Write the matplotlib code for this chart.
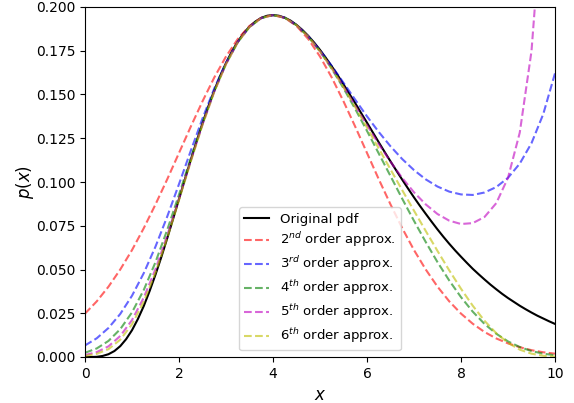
import matplotlib
matplotlib.use("Agg")
import matplotlib.pyplot as plt

# x positions
x_pdf = [i * 0.125 for i in range(81)]
x_approx = [i * 0.25 for i in range(41)]

# Original pdf
pdf_original = [0.0000, 0.0000, 0.0001, 0.0006, 0.0016, 0.0034, 0.0062, 0.0102, 0.0153, 0.0217,
                0.0291, 0.0377, 0.0471, 0.0572, 0.0679, 0.0790, 0.0902, 0.1015, 0.1126, 0.1233,
                0.1336, 0.1433, 0.1523, 0.1606, 0.1680, 0.1746, 0.1802, 0.1850, 0.1888, 0.1917,
                0.1938, 0.1950, 0.1954, 0.1950, 0.1939, 0.1922, 0.1898, 0.1869, 0.1835, 0.1797,
                0.1755, 0.1709, 0.1661, 0.1611, 0.1558, 0.1504, 0.1450, 0.1394, 0.1339, 0.1283,
                0.1227, 0.1172, 0.1118, 0.1065, 0.1013, 0.0962, 0.0912, 0.0864, 0.0818, 0.0773,
                0.0729, 0.0687, 0.0647, 0.0609, 0.0573, 0.0538, 0.0504, 0.0473, 0.0443, 0.0414,
                0.0387, 0.0361, 0.0337, 0.0315, 0.0293, 0.0273, 0.0254, 0.0236, 0.0220, 0.0204,
                0.0189]

approx_2 = [0.0248, 0.0318, 0.0402, 0.0500, 0.0611, 0.0736, 0.0872, 0.1016, 0.1166, 0.1316,
            0.1461, 0.1597, 0.1717, 0.1817, 0.1892, 0.1938, 0.1954, 0.1938, 0.1892, 0.1817,
            0.1717, 0.1597, 0.1461, 0.1316, 0.1166, 0.1016, 0.0872, 0.0736, 0.0611, 0.0500,
            0.0402, 0.0318, 0.0248, 0.0190, 0.0143, 0.0106, 0.0078, 0.0056, 0.0039, 0.0027,
            0.0019]

approx_3 = [0.0066, 0.0107, 0.0166, 0.0246, 0.0350, 0.0479, 0.0631, 0.0803, 0.0988, 0.1178,
            0.1363, 0.1534, 0.1682, 0.1801, 0.1887, 0.1937, 0.1954, 0.1939, 0.1897, 0.1833,
            0.1753, 0.1663, 0.1567, 0.1470, 0.1375, 0.1286, 0.1204, 0.1131, 0.1068, 0.1015,
            0.0974, 0.0945, 0.0929, 0.0926, 0.0940, 0.0971, 0.1024, 0.1105, 0.1222, 0.1388,
            0.1621]

approx_4 = [0.0024, 0.0049, 0.0092, 0.0159, 0.0255, 0.0383, 0.0542, 0.0727, 0.0928, 0.1136,
            0.1336, 0.1519, 0.1675, 0.1799, 0.1886, 0.1937, 0.1954, 0.1939, 0.1896, 0.1830,
            0.1746, 0.1647, 0.1536, 0.1417, 0.1292, 0.1163, 0.1034, 0.0904, 0.0778, 0.0657,
            0.0542, 0.0437, 0.0342, 0.0259, 0.0189, 0.0133, 0.0089, 0.0057, 0.0034, 0.0019,
            0.0010]

approx_5 = [0.0011, 0.0028, 0.0061, 0.0120, 0.0211, 0.0339, 0.0502, 0.0695, 0.0905, 0.1121,
            0.1328, 0.1516, 0.1674, 0.1799, 0.1886, 0.1937, 0.1954, 0.1939, 0.1896, 0.1831,
            0.1747, 0.1651, 0.1545, 0.1435, 0.1325, 0.1217, 0.1116, 0.1023, 0.0941, 0.0872,
            0.0817, 0.0779, 0.0760, 0.0765, 0.0800, 0.0879, 0.1024, 0.1282, 0.1748, 0.2634,
            0.4463]

approx_6 = [0.0006, 0.0018, 0.0045, 0.0099, 0.0187, 0.0316, 0.0483, 0.0680, 0.0896, 0.1116,
            0.1326, 0.1515, 0.1674, 0.1798, 0.1886, 0.1937, 0.1954, 0.1939, 0.1896, 0.1831,
            0.1747, 0.1650, 0.1542, 0.1428, 0.1311, 0.1192, 0.1072, 0.0953, 0.0836, 0.0720,
            0.0606, 0.0495, 0.0390, 0.0293, 0.0207, 0.0136, 0.0081, 0.0042, 0.0019, 0.0007,
            0.0002]

series_labels = ['$2^{nd}$ order approx.', '$3^{rd}$ order approx.', '$4^{th}$ order approx.',
                 '$5^{th}$ order approx.', '$6^{th}$ order approx.']
series_colors = ['r', 'b', 'g', 'm', 'y']
x_ticks = [0, 2, 4, 6, 8, 10]

fig = plt.figure(figsize=(5.74, 4.03), dpi=100)
ax = fig.add_axes([85 / 574, 46 / 403, 470 / 574, 350 / 403])
ax.plot(x_pdf, pdf_original, color='k', lw=1.5, label='Original pdf')
for vals, lab, col in zip([approx_2, approx_3, approx_4, approx_5, approx_6], series_labels, series_colors):
    ax.plot(x_approx, vals, '--', color=col, alpha=0.6, lw=1.5, label=lab)
ax.set_xlim(0, 10)
ax.set_ylim(0, 0.2)
ax.set_xticks(x_ticks)
ax.set_xlabel('$x$', fontsize=12)
ax.set_ylabel('$p(x)$', fontsize=12, labelpad=0)
ax.legend(loc='lower center', fontsize=9.5, labelspacing=0.38, handlelength=1.9)
fig.savefig('out.png')
